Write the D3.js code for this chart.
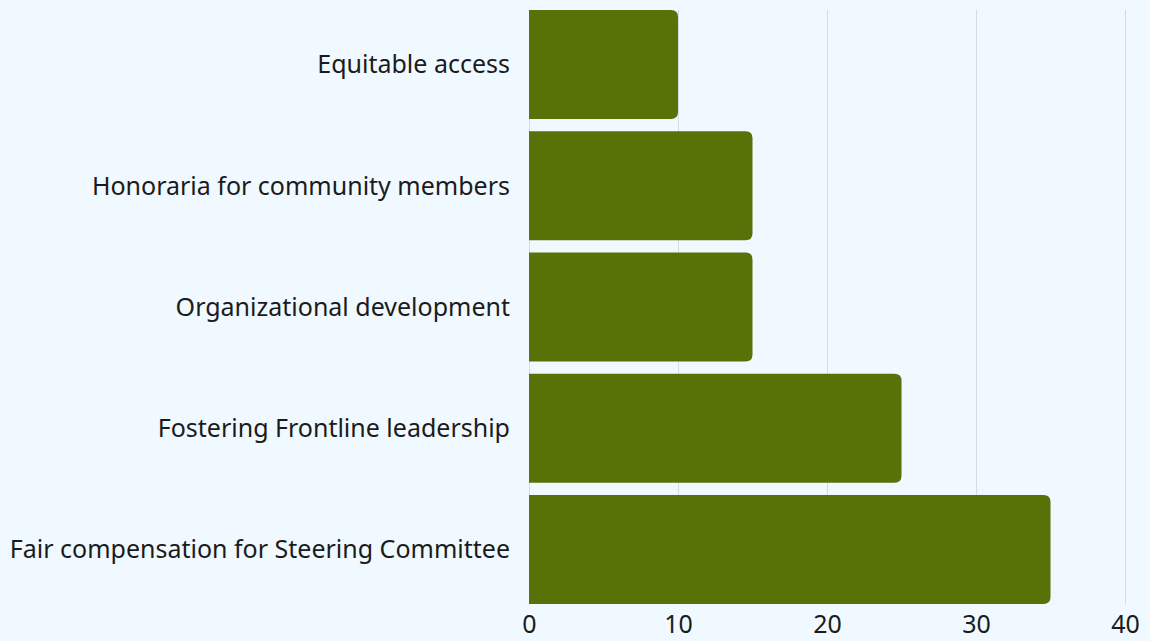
<!DOCTYPE html>
<html>
<head>
<meta charset="utf-8">
<script src="https://cdn.jsdelivr.net/npm/d3@7"></script>
<style>
  html, body { margin: 0; padding: 0; background: #eff9ff; overflow: hidden; }
  svg { display: block; }
</style>
</head>
<body>
<svg id="chart"></svg>
<script>
// chart values
const categories = [
  "Equitable access",
  "Honoraria for community members",
  "Organizational development",
  "Fostering Frontline leadership",
  "Fair compensation for Steering Committee"
];
const values = [10, 15, 15, 25, 35];
const ticks = [0, 10, 20, 30, 40];

const width = 1150;
const height = 641;
const margin = { top: 10, right: 25, bottom: 37, left: 529 };

const svg = d3.select("#chart")
  .attr("width", width)
  .attr("height", height)
  .style("font-family", "'Noto Sans', sans-serif");

const x = d3.scaleLinear()
  .domain([0, 40])
  .range([margin.left, width - margin.right]);

const y = d3.scaleBand()
  .domain(categories)
  .range([margin.top, height - margin.bottom])
  .paddingInner(0.1)
  .paddingOuter(0);

// vertical gridlines
svg.append("g")
  .selectAll("line")
  .data(ticks)
  .join("line")
    .attr("x1", d => x(d) + 0.5)
    .attr("x2", d => x(d) + 0.5)
    .attr("y1", margin.top)
    .attr("y2", height - margin.bottom)
    .attr("stroke", "#d3dce3")
    .attr("stroke-width", 1);

// bars, rounded on the right end only
const r = 7;
function barPath(d, i) {
  const x0 = x(0), x1 = x(d), y0 = y(categories[i]), h = y.bandwidth();
  return `M${x0},${y0}H${x1 - r}Q${x1},${y0} ${x1},${y0 + r}` +
    `V${y0 + h - r}Q${x1},${y0 + h} ${x1 - r},${y0 + h}H${x0}Z`;
}

svg.append("g")
  .selectAll("path")
  .data(values)
  .join("path")
    .attr("d", barPath)
    .attr("fill", "#587208");

// category labels
svg.append("g")
  .selectAll("text")
  .data(categories)
  .join("text")
    .attr("x", margin.left - 19)
    .attr("y", d => y(d) + y.bandwidth() / 2)
    .attr("dy", "0.35em")
    .attr("text-anchor", "end")
    .attr("fill", "#1b1b1b")
    .style("font-size", "25px")
    .text(d => d);

// x tick labels (kept just inside the bottom edge)
const xAxis = d3.axisBottom(x).tickValues(ticks).tickSize(0).tickPadding(0);
const gx = svg.append("g")
  .attr("transform", `translate(0,${height - 8})`)
  .call(xAxis);
gx.select(".domain").remove();
gx.selectAll("text")
  .attr("dy", 0)
  .attr("y", 0)
  .attr("fill", "#1b1b1b")
  .style("font-family", "'Noto Sans', sans-serif")
  .style("font-size", "25px");
</script>
</body>
</html>
